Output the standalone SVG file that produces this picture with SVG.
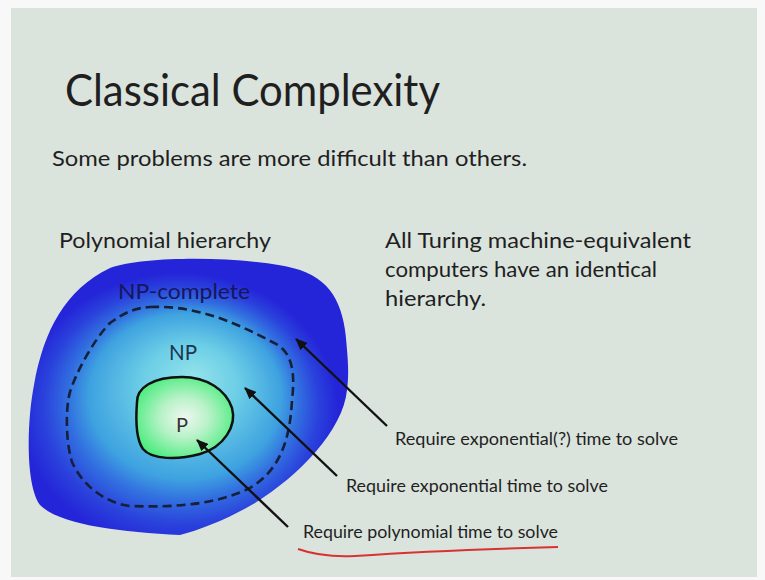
<svg xmlns="http://www.w3.org/2000/svg" width="765" height="580" viewBox="0 0 765 580">
  <style>
    .t { font-family: Lato, "Open Sans", "Liberation Sans", sans-serif; fill: #1f1f1f; }
    .lbl { font-family: Lato, "Open Sans", "Liberation Sans", sans-serif; font-size: 18px; fill: #1f1f1f; }
    .arrow { stroke: #111; stroke-width: 2.4; fill: none; marker-end: url(#head); }
  </style>
  <defs>
    <marker id="head" viewBox="0 0 12 10" refX="11" refY="5" markerWidth="12" markerHeight="10" markerUnits="userSpaceOnUse" orient="auto">
      <path d="M0,0 L12,5 L0,10 Z" fill="#111"/>
    </marker>
    <radialGradient id="gHier" cx="0.47" cy="0.55" r="0.5" fx="0.52" fy="0.42">
      <stop offset="0" stop-color="#92e2ea"/>
      <stop offset="0.3" stop-color="#6ccee6"/>
      <stop offset="0.6" stop-color="#3ea2e0"/>
      <stop offset="0.72" stop-color="#3270e0"/>
      <stop offset="0.86" stop-color="#2a42dc"/>
      <stop offset="1" stop-color="#2424d8"/>
    </radialGradient>
    <radialGradient id="gP" cx="0.5" cy="0.5" r="0.55">
      <stop offset="0" stop-color="#eef7f0"/>
      <stop offset="0.45" stop-color="#b8f2c8"/>
      <stop offset="1" stop-color="#4eec80"/>
    </radialGradient>
  </defs>

  <!-- page and slide surface -->
  <rect x="0" y="0" width="765" height="580" fill="#f7f8f7"/>
  <rect x="11" y="8" width="746" height="569" fill="#dbe3dd"/>

  <!-- headings -->
  <text class="t" x="65" y="106" font-size="44" textLength="375" lengthAdjust="spacingAndGlyphs">Classical Complexity</text>
  <text class="t" x="52" y="166" font-size="22" textLength="475" lengthAdjust="spacingAndGlyphs">Some problems are more difficult than others.</text>
  <text class="t" x="59" y="248" font-size="22" textLength="212" lengthAdjust="spacingAndGlyphs">Polynomial hierarchy</text>
  <text class="t" x="385" y="248" font-size="22" textLength="306" lengthAdjust="spacingAndGlyphs">All Turing machine-equivalent</text>
  <text class="t" x="385" y="277" font-size="22" textLength="272" lengthAdjust="spacingAndGlyphs">computers have an identical</text>
  <text class="t" x="385" y="306" font-size="22" textLength="101" lengthAdjust="spacingAndGlyphs">hierarchy.</text>

  <!-- polynomial hierarchy region -->
  <g id="hierarchy">
    <path d="M180,535 C120,532 60,525 40,505 C25,485 27,420 34,385 C44,330 65,290 110,268 C150,254 260,257 300,270 C335,282 345,310 347,350 C349,372 348,382 347,390 C343,430 300,475 255,503 C230,518 200,530 180,535 Z" fill="url(#gHier)"/>
    <text x="118" y="299" font-family="Lato, 'Open Sans', sans-serif" font-size="22" fill="#16165c" textLength="132" lengthAdjust="spacingAndGlyphs">NP-complete</text>
  </g>

  <!-- NP boundary -->
  <g id="np">
    <path d="M150,307 C200,305 240,325 278,345 C293,355 295,375 292,400 C290,440 280,470 250,488 C220,503 180,508 130,506 C105,503 82,485 72,462 C65,440 66,405 70,392 C76,372 95,338 110,323 C125,312 135,308 150,307 Z" fill="none" stroke="#16203a" stroke-width="2.6" stroke-dasharray="9 5"/>
    <text x="169" y="360" font-family="Lato, 'Open Sans', sans-serif" font-size="21" fill="#1b3550" textLength="28" lengthAdjust="spacingAndGlyphs">NP</text>
  </g>

  <!-- P region -->
  <g id="p">
    <path d="M137,402 C137,388 152,377 182,377 C207,377 226,390 232,408 C237,426 224,447 200,454 C178,460 152,460 143,449 C135,438 136,415 137,402 Z" fill="url(#gP)" stroke="#111" stroke-width="2.5"/>
    <text x="176" y="432" font-family="Lato, 'Open Sans', sans-serif" font-size="20" fill="#333">P</text>
  </g>

  <!-- callout labels -->
  <g id="label-exp-q">
    <text class="lbl" x="395" y="445" textLength="283" lengthAdjust="spacingAndGlyphs">Require exponential(?) time to solve</text>
  </g>
  <g id="label-exp">
    <text class="lbl" x="346" y="492" textLength="262" lengthAdjust="spacingAndGlyphs">Require exponential time to solve</text>
  </g>
  <g id="label-poly">
    <text class="lbl" x="303" y="538" textLength="255" lengthAdjust="spacingAndGlyphs">Require polynomial time to solve</text>
    <path d="M298,549 C315,555 335,557 355,556 C400,553 450,550 558,547" fill="none" stroke="#d93232" stroke-width="2"/>
  </g>

  <!-- pointers -->
  <g id="connectors">
    <line class="arrow" x1="387" y1="426" x2="296" y2="339"/>
    <line class="arrow" x1="337" y1="476" x2="245" y2="388"/>
    <line class="arrow" x1="288" y1="527" x2="197" y2="440"/>
  </g>
</svg>
